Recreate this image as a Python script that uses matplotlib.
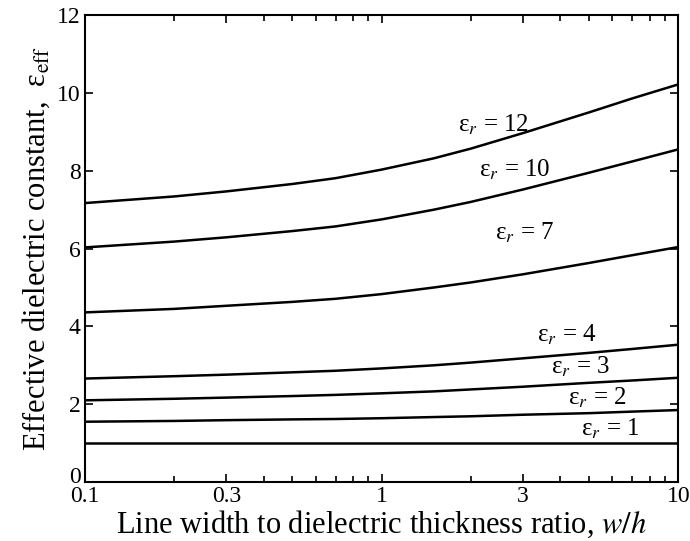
import numpy as np
import matplotlib
matplotlib.use("Agg")
import matplotlib.pyplot as plt
from matplotlib.ticker import FixedLocator, NullFormatter, LogLocator
from matplotlib.transforms import ScaledTranslation

plt.rcParams['font.family'] = ['Liberation Serif', 'DejaVu Serif']
plt.rcParams['mathtext.fontset'] = 'stix'

# w/h ratio
wh = [0.1, 0.2, 0.3, 0.5, 0.7, 1, 1.5, 2, 3, 5, 7, 10]

# effective dielectric constant for each substrate permittivity
eps_12 = [7.17, 7.34, 7.47, 7.66, 7.81, 8.03, 8.32, 8.57, 8.97, 9.50, 9.86, 10.22]
eps_10 = [6.03, 6.18, 6.29, 6.45, 6.57, 6.75, 7.00, 7.20, 7.52, 7.95, 8.24, 8.55]
eps_7 = [4.36, 4.45, 4.53, 4.63, 4.71, 4.83, 5.00, 5.13, 5.34, 5.63, 5.83, 6.04]
eps_4 = [2.66, 2.72, 2.76, 2.82, 2.86, 2.92, 3.00, 3.07, 3.18, 3.32, 3.42, 3.53]
eps_3 = [2.10, 2.14, 2.17, 2.21, 2.24, 2.28, 2.33, 2.38, 2.45, 2.55, 2.61, 2.68]
eps_2 = [1.55, 1.57, 1.59, 1.61, 1.62, 1.64, 1.67, 1.69, 1.73, 1.77, 1.81, 1.85]
eps_1 = [1.0, 1.0, 1.0, 1.0, 1.0, 1.0, 1.0, 1.0, 1.0, 1.0, 1.0, 1.0]

curves = [eps_12, eps_10, eps_7, eps_4, eps_3, eps_2, eps_1]
er_values = [12, 10, 7, 4, 3, 2, 1]
# where each label sits (x, y)
label_pos = [(2.38, 9.18), (2.80, 8.02), (3.03, 6.40), (4.22, 3.78),
             (4.67, 2.96), (5.33, 2.17), (5.90, 1.37)]

fig = plt.figure(figsize=(6.9, 5.41), dpi=100)
ax = fig.add_axes([0.123, 0.109, 0.86, 0.863])

for y, er, (lx, ly) in zip(curves, er_values, label_pos):
    ax.plot(wh, y, color='black', lw=1.8)
    ax.text(lx, ly, 'ε$_r$ = %d' % er, fontsize=18,
            ha='center', va='center')

ax.set_xscale('log')
ax.set_xlim(0.1, 10)
ax.set_ylim(0, 12)

ax.xaxis.set_major_locator(FixedLocator([0.1, 0.3, 1, 3, 10]))
ax.xaxis.set_major_formatter(plt.FixedFormatter(['0.1', '0.3', '1', '3', '10']))
ax.xaxis.set_minor_locator(LogLocator(base=10, subs=np.arange(2, 10)))
ax.xaxis.set_minor_formatter(NullFormatter())
ax.set_yticks([0, 2, 4, 6, 8, 10, 12])

ax.tick_params(which='both', direction='in', top=True, right=True,
               labelsize=17)
ax.tick_params(axis='x', pad=3)
ax.tick_params(axis='y', pad=3)
ax.tick_params(which='major', length=6, width=1.2)
ax.tick_params(which='minor', length=4, width=1.2)
for s in ax.spines.values():
    s.set_linewidth(1.5)

# lift the "0" a little so it clears "0.1"
zero = ax.get_yticklabels()[0]
zero.set_transform(zero.get_transform() + ScaledTranslation(0, 5 / 72, fig.dpi_scale_trans))

ax.set_xlabel(r'Line width to dielectric thickness ratio, $w/h$', fontsize=22,
              labelpad=1)
ax.set_ylabel('Effective dielectric constant,  ε$_{\\rm eff}$', fontsize=22,
              labelpad=4)

fig.savefig('out.png', dpi=100)
